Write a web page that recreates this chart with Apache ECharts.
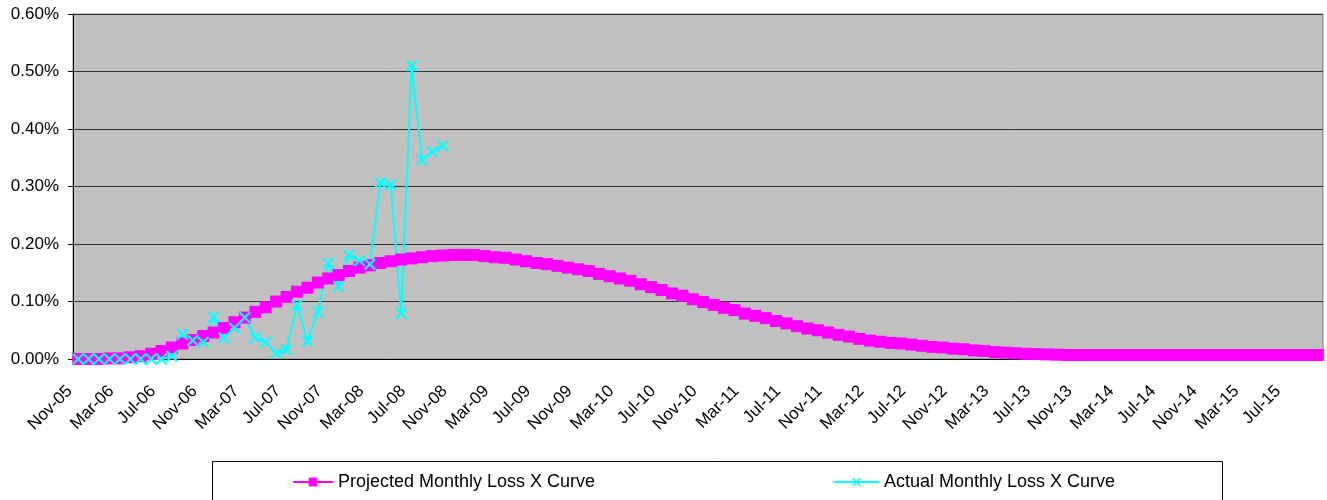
<!DOCTYPE html>
<html>
<head>
<meta charset="utf-8">
<script src="https://cdn.jsdelivr.net/npm/echarts@6/dist/echarts.min.js"></script>
<style>
  html, body { margin: 0; padding: 0; background: #fff; }
  #chart { width: 1327px; height: 500px; }
</style>
</head>
<body>
<div id="chart"></div>
<script>
// months, Nov-05 .. Oct-15
const months = [
  'Nov-05', 'Dec-05',
  'Jan-06', 'Feb-06', 'Mar-06', 'Apr-06', 'May-06', 'Jun-06', 'Jul-06', 'Aug-06', 'Sep-06', 'Oct-06', 'Nov-06', 'Dec-06',
  'Jan-07', 'Feb-07', 'Mar-07', 'Apr-07', 'May-07', 'Jun-07', 'Jul-07', 'Aug-07', 'Sep-07', 'Oct-07', 'Nov-07', 'Dec-07',
  'Jan-08', 'Feb-08', 'Mar-08', 'Apr-08', 'May-08', 'Jun-08', 'Jul-08', 'Aug-08', 'Sep-08', 'Oct-08', 'Nov-08', 'Dec-08',
  'Jan-09', 'Feb-09', 'Mar-09', 'Apr-09', 'May-09', 'Jun-09', 'Jul-09', 'Aug-09', 'Sep-09', 'Oct-09', 'Nov-09', 'Dec-09',
  'Jan-10', 'Feb-10', 'Mar-10', 'Apr-10', 'May-10', 'Jun-10', 'Jul-10', 'Aug-10', 'Sep-10', 'Oct-10', 'Nov-10', 'Dec-10',
  'Jan-11', 'Feb-11', 'Mar-11', 'Apr-11', 'May-11', 'Jun-11', 'Jul-11', 'Aug-11', 'Sep-11', 'Oct-11', 'Nov-11', 'Dec-11',
  'Jan-12', 'Feb-12', 'Mar-12', 'Apr-12', 'May-12', 'Jun-12', 'Jul-12', 'Aug-12', 'Sep-12', 'Oct-12', 'Nov-12', 'Dec-12',
  'Jan-13', 'Feb-13', 'Mar-13', 'Apr-13', 'May-13', 'Jun-13', 'Jul-13', 'Aug-13', 'Sep-13', 'Oct-13', 'Nov-13', 'Dec-13',
  'Jan-14', 'Feb-14', 'Mar-14', 'Apr-14', 'May-14', 'Jun-14', 'Jul-14', 'Aug-14', 'Sep-14', 'Oct-14', 'Nov-14', 'Dec-14',
  'Jan-15', 'Feb-15', 'Mar-15', 'Apr-15', 'May-15', 'Jun-15', 'Jul-15', 'Aug-15', 'Sep-15', 'Oct-15'
];

// values in percent
const projected = [
  0.000, 0.000, 0.000, 0.001, 0.001, 0.003, 0.005, 0.009, 0.014, 0.020,
  0.027, 0.033, 0.040, 0.046, 0.054, 0.064, 0.072, 0.082, 0.090, 0.100,
  0.108, 0.117, 0.124, 0.133, 0.140, 0.146, 0.153, 0.159, 0.163, 0.167,
  0.170, 0.173, 0.175, 0.177, 0.179, 0.180, 0.181, 0.181, 0.181, 0.179,
  0.177, 0.176, 0.173, 0.170, 0.167, 0.165, 0.162, 0.159, 0.156, 0.153,
  0.148, 0.144, 0.140, 0.136, 0.130, 0.125, 0.120, 0.114, 0.110, 0.104,
  0.099, 0.094, 0.089, 0.085, 0.079, 0.075, 0.071, 0.066, 0.062, 0.057,
  0.053, 0.050, 0.046, 0.042, 0.039, 0.035, 0.032, 0.030, 0.028, 0.027,
  0.025, 0.023, 0.021, 0.020, 0.018, 0.017, 0.015, 0.014, 0.012, 0.011,
  0.010, 0.009, 0.0085, 0.008, 0.0075, 0.007, 0.007, 0.007, 0.007, 0.007,
  0.007, 0.007, 0.007, 0.007, 0.007, 0.007, 0.007, 0.007, 0.007, 0.007,
  0.007, 0.007, 0.007, 0.007, 0.007, 0.007, 0.007, 0.007, 0.007, 0.007
];

const actual = [
  0.000, 0.000, 0.000, 0.000, 0.000, 0.000, 0.000, 0.000, 0.000, 0.005,
  0.043, 0.032, 0.029, 0.073, 0.037, 0.054, 0.072, 0.037, 0.029, 0.010,
  0.016, 0.094, 0.031, 0.082, 0.167, 0.126, 0.181, 0.171, 0.165, 0.307,
  0.303, 0.079, 0.510, 0.346, 0.361, 0.371
];

const yTicks = [0, 0.1, 0.2, 0.3, 0.4, 0.5, 0.6];

const FONT = '"Liberation Sans", Arial, sans-serif';
// thick-stroked X marker
const xMark = 'path://M2.5,0 L10,7.5 L17.5,0 L20,2.5 L12.5,10 L20,17.5 L17.5,20 L10,12.5 L2.5,20 L0,17.5 L7.5,10 L0,2.5 Z';

const chart = echarts.init(document.getElementById('chart'), null, { renderer: 'canvas' });

chart.setOption({
  animation: false,
  textStyle: { fontFamily: FONT },
  grid: {
    left: 73, right: 4, top: 14, bottom: 141,
    show: true, backgroundColor: '#C0C0C0', borderColor: '#808080', borderWidth: 1
  },
  graphic: [{
    type: 'rect', left: 212, top: 461, silent: true,
    shape: { width: 1010, height: 45 },
    style: { fill: '#fff', stroke: '#000', lineWidth: 1 }
  }],
  legend: [
    {
      data: ['Projected Monthly Loss X Curve'],
      left: 292, top: 473, padding: 0, itemWidth: 40, itemHeight: 11, itemGap: 4,
      textStyle: { fontSize: 18, color: '#000', fontFamily: FONT }
    },
    {
      data: ['Actual Monthly Loss X Curve'],
      left: 833, top: 473, padding: 0, itemWidth: 45, itemHeight: 11, itemGap: 4,
      textStyle: { fontSize: 18, color: '#000', fontFamily: FONT }
    }
  ],
  xAxis: {
    type: 'category',
    data: months,
    boundaryGap: true,
    axisLine: { lineStyle: { color: '#000', width: 1 } },
    axisTick: { interval: 3, length: 5, lineStyle: { color: '#000' } },
    axisLabel: {
      interval: 3, rotate: 45, margin: 21, padding: [0, 12, 0, 0],
      fontSize: 17, color: '#000', fontFamily: FONT
    },
    splitLine: { show: false }
  },
  yAxis: {
    type: 'value',
    min: yTicks[0], max: yTicks[yTicks.length - 1], interval: 0.1,
    axisLine: { show: true, lineStyle: { color: '#000' } },
    axisTick: { show: true, length: 5, lineStyle: { color: '#000' } },
    axisLabel: {
      margin: 14, fontSize: 17, color: '#000', fontFamily: FONT,
      formatter: (v) => v.toFixed(2) + '%'
    },
    splitLine: { lineStyle: { color: '#333', width: 1 } }
  },
  series: [
    {
      name: 'Projected Monthly Loss X Curve',
      type: 'line',
      data: projected,
      symbol: 'rect',
      symbolSize: 12,
      showAllSymbol: true,
      lineStyle: { color: '#FF00FF', width: 2 },
      itemStyle: { color: '#FF00FF', borderWidth: 0 }
    },
    {
      name: 'Actual Monthly Loss X Curve',
      type: 'line',
      data: actual,
      symbol: xMark,
      symbolSize: 12,
      showAllSymbol: true,
      lineStyle: { color: '#00FFFF', width: 2 },
      itemStyle: { color: '#00FFFF', borderWidth: 0 }
    }
  ]
});
</script>
</body>
</html>
